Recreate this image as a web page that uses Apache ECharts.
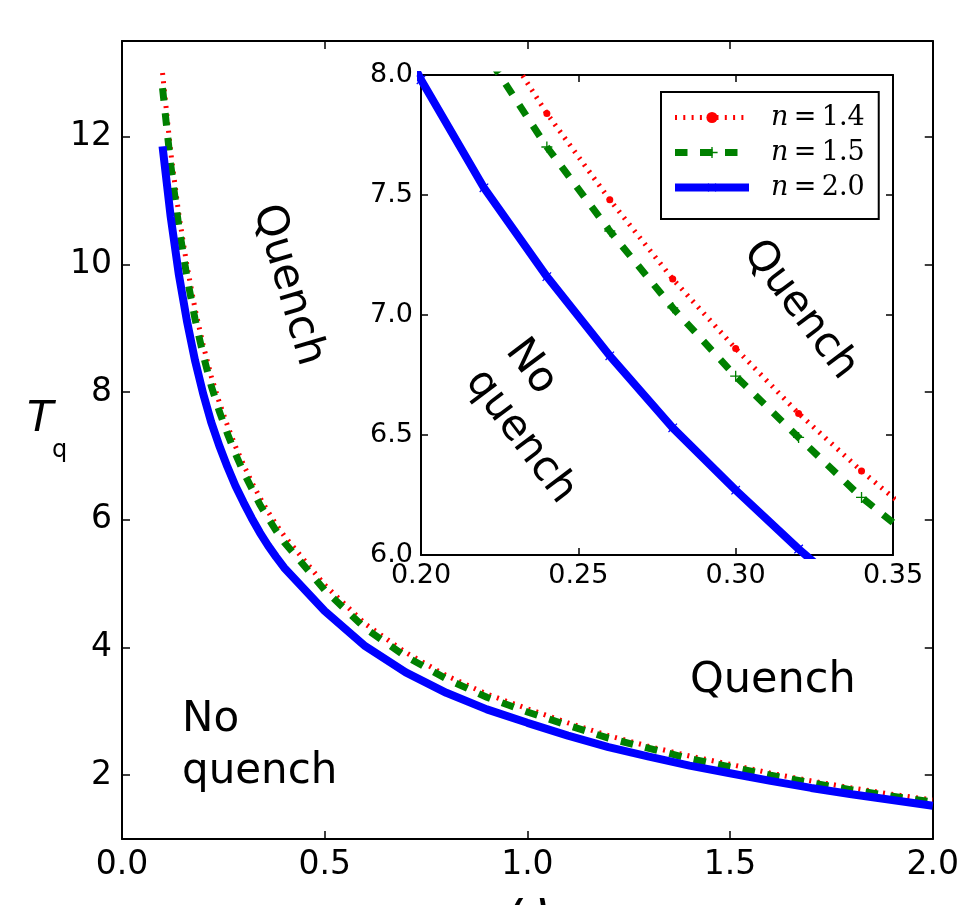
<!DOCTYPE html>
<html>
<head>
<meta charset="utf-8">
<script src="https://cdn.jsdelivr.net/npm/echarts@6/dist/echarts.min.js"></script>
<style>
  html, body { margin: 0; padding: 0; background: #fff; }
  #chart { width: 962px; height: 905px; }
</style>
</head>
<body>
<div id="chart"></div>
<script>
// Quench threshold T_q against omega for three exponents n
const omega = [0.10, 0.12, 0.14, 0.16, 0.18, 0.20, 0.22, 0.24, 0.26, 0.28, 0.30, 0.32, 0.34, 0.36, 0.38, 0.40,
               0.5, 0.6, 0.7, 0.8, 0.9, 1.0, 1.1, 1.2, 1.3, 1.4, 1.5, 1.6, 1.7, 1.8, 1.9, 2.0];
const tqN14 = [13.00, 11.77, 10.79, 9.99, 9.31, 8.74, 8.25, 7.84, 7.48, 7.15, 6.86, 6.59, 6.35, 6.13, 5.93, 5.75,
               4.98, 4.37, 3.92, 3.56, 3.27, 3.04, 2.82, 2.62, 2.45, 2.30, 2.17, 2.03, 1.91, 1.80, 1.70, 1.61];
const tqN15 = [12.76, 11.57, 10.60, 9.81, 9.15, 8.59, 8.10, 7.70, 7.35, 7.03, 6.745, 6.49, 6.24, 6.03, 5.83, 5.65,
               4.90, 4.30, 3.86, 3.51, 3.22, 2.99, 2.78, 2.58, 2.42, 2.26, 2.13, 2.00, 1.88, 1.77, 1.67, 1.58];
const tqN20 = [11.85, 10.75, 9.85, 9.12, 8.50, 7.98, 7.53, 7.16, 6.83, 6.53, 6.27, 6.025, 5.80, 5.60, 5.42, 5.25,
               4.57, 4.02, 3.61, 3.29, 3.03, 2.82, 2.62, 2.44, 2.29, 2.15, 2.03, 1.91, 1.80, 1.70, 1.61, 1.52];

const seriesNames = ['n=1.4', 'n=1.5', 'n=2.0'];
const mainXTicks = [0, 0.5, 1.0, 1.5, 2.0];
const mainYTicks = [2, 4, 6, 8, 10, 12];
const insetXTicks = [0.20, 0.25, 0.30, 0.35];
const insetYTicks = [6.0, 6.5, 7.0, 7.5, 8.0];

const pairs = (xs, ys) => xs.map((x, i) => [x, ys[i]]);

const RED = '#ff0000', GREEN = '#008000', BLUE = '#0000ff';
const FONT = 'DejaVu Sans';
const plusPath = 'path://M4.4,0H5.6V10H4.4Z M0,4.4H10V5.6H0Z';
const crossPath = 'path://M4.5,0H5.5V10H4.5Z M0,4.5H10V5.5H0Z';

const lineDefs = [
  { data: tqN14, color: RED, width: 5, dash: [2, 6.3], symbol: 'circle', size: 7, rotate: 0 },
  { data: tqN15, color: GREEN, width: 7, dash: [12.5, 12.5], symbol: plusPath, size: 11, rotate: 0 },
  { data: tqN20, color: BLUE, width: 8, dash: 'solid', symbol: crossPath, size: 12, rotate: 45 }
];

function axisPair(gridIndex, min, max, ticks, digits, fontSize, tickLen, margin, isX) {
  const common = {
    gridIndex, type: 'value', min, max,
    splitLine: { show: false },
    axisLine: { show: true, onZero: false, lineStyle: { color: '#000', width: 2 } },
    axisTick: { show: true, inside: true, length: tickLen, customValues: ticks, lineStyle: { color: '#000', width: 1.5 } }
  };
  return [
    Object.assign({}, common, {
      position: isX ? 'bottom' : 'left',
      axisLabel: {
        show: true, customValues: ticks, formatter: v => v.toFixed(digits),
        fontFamily: FONT, fontSize, color: '#000', margin
      }
    }),
    Object.assign({}, common, {
      position: isX ? 'top' : 'right',
      axisLabel: { show: false }
    })
  ];
}

const xAxes = [].concat(
  axisPair(0, 0, 2, mainXTicks, 1, 33, 8, 10, true),
  axisPair(1, 0.2, 0.35, insetXTicks, 2, 27, 7, 7, true)
);
const yAxes = [].concat(
  axisPair(0, 1, 13.5, mainYTicks, 0, 33, 8, 10, false),
  axisPair(1, 6, 8, insetYTicks, 1, 27, 7, 8, false)
);

const series = [];
// zoomed panel: lines with markers
lineDefs.forEach((d, i) => {
  series.push({
    name: seriesNames[i], type: 'line', xAxisIndex: 2, yAxisIndex: 2,
    data: pairs(omega, d.data), clip: true, z: 3 + i,
    showSymbol: true, symbol: d.symbol, symbolSize: d.size, symbolRotate: d.rotate,
    itemStyle: { color: d.color },
    lineStyle: { color: d.color, width: d.width, type: d.dash, cap: 'butt' },
    emphasis: { disabled: true }, animation: false
  });
});
// full range panel
lineDefs.forEach((d, i) => {
  series.push({
    name: seriesNames[i], type: 'line', xAxisIndex: 0, yAxisIndex: 0,
    data: pairs(omega, d.data), clip: true, z: 3 + i,
    showSymbol: false, symbol: 'none',
    lineStyle: { color: d.color, width: d.width, type: d.dash, cap: 'butt' },
    emphasis: { disabled: true }, animation: false
  });
});

const deg = Math.PI / 180;
const textStyle = (size) => ({ fontFamily: FONT, fontSize: size, fill: '#000' });

const option = {
  backgroundColor: '#fff',
  animation: false,
  grid: [
    { left: 122, top: 41, width: 815, height: 798, show: false },
    { left: 421, top: 75, width: 472, height: 480, show: true, backgroundColor: '#fff', borderWidth: 0 }
  ],
  xAxis: xAxes,
  yAxis: yAxes,
  legend: {
    data: seriesNames, orient: 'vertical', left: 661, top: 92,
    itemWidth: 74, itemHeight: 14, itemGap: 8,
    padding: [12, 14, 18, 10],
    borderColor: '#000', borderWidth: 2, backgroundColor: '#fff',
    selectedMode: false,
    lineStyle: { width: 'inherit' },
    formatter: name => '{i|n}{r|\u2009=\u2009' + name.split('=')[1] + '}',
    textStyle: {
      padding: [0, 0, 0, 17],
      rich: {
        i: { fontFamily: 'DejaVu Serif', fontStyle: 'italic', fontSize: 27, color: '#000', lineHeight: 26 },
        r: { fontFamily: 'DejaVu Serif', fontSize: 27, color: '#000', lineHeight: 26 }
      }
    }
  },
  graphic: [
    { type: 'text', x: 288, y: 285, rotation: -73.6 * deg, z: 50,
      style: Object.assign(textStyle(43), { text: 'Quench', align: 'center', verticalAlign: 'middle' }) },
    { type: 'text', x: 182, y: 694, z: 50,
      style: Object.assign(textStyle(42), { text: 'No\nquench', lineHeight: 52, align: 'left', verticalAlign: 'top' }) },
    { type: 'text', x: 690, y: 659, z: 50,
      style: Object.assign(textStyle(43), { text: 'Quench', align: 'left', verticalAlign: 'top' }) },
    { type: 'text', x: 800, y: 310, rotation: -53 * deg, z: 50,
      style: Object.assign(textStyle(42), { text: 'Quench', align: 'center', verticalAlign: 'middle' }) },
    { type: 'text', x: 540, y: 421, rotation: -53 * deg, z: 50,
      style: Object.assign(textStyle(42), { text: 'No\nquench', x: -77, y: 0, lineHeight: 50, align: 'left', verticalAlign: 'middle' }) },
    { type: 'text', x: 27, y: 420, z: 50,
      style: { text: 'T', fontFamily: FONT, fontStyle: 'italic', fontSize: 43, fill: '#000', align: 'left', verticalAlign: 'middle' } },
    { type: 'text', x: 52, y: 451, z: 50,
      style: { text: 'q', fontFamily: FONT, fontSize: 24, fill: '#000', align: 'left', verticalAlign: 'middle' } },
    // horizontal axis title, mostly below the visible area
    { type: 'text', x: 529, y: 911, z: 50,
      style: { text: 'ω', fontFamily: FONT, fontStyle: 'italic', fontSize: 46, fill: '#000', align: 'center', verticalAlign: 'middle' } }
  ],
  series
};

const chart = echarts.init(document.getElementById('chart'), null, { renderer: 'canvas' });
chart.setOption(option);
</script>
</body>
</html>
